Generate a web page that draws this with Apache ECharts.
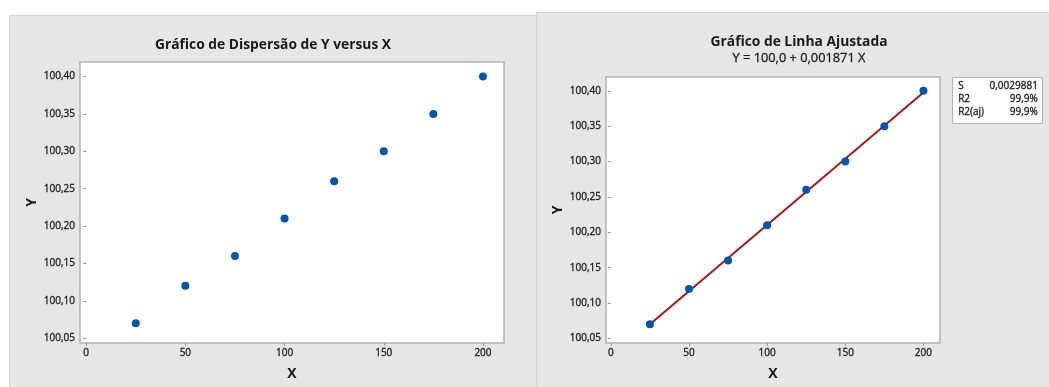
<!DOCTYPE html>
<html>
<head>
<meta charset="utf-8">
<script src="https://cdn.jsdelivr.net/npm/echarts@6/dist/echarts.min.js"></script>
<style>
html,body{margin:0;padding:0;background:#fff;}
#c{width:1049px;height:387px;}
</style>
</head>
<body>
<div id="c"></div>
<script>
// Data
const xValues = [25, 50, 75, 100, 125, 150, 175, 200];
const yValues = [100.07, 100.12, 100.16, 100.21, 100.26, 100.30, 100.35, 100.40];
// Fitted line endpoints (Y = 100,0 + 0,001871 X)
const fitX = [25, 200];
const fitY = [100.070, 100.3975];
// Tick labels
const xTicks = [0, 50, 100, 150, 200];
const yTicks = [100.05, 100.10, 100.15, 100.20, 100.25, 100.30, 100.35, 100.40];
// Summary table
const statNames = ['S', 'R2', 'R2(aj)'];
const statValues = ['0,0029881', '99,9%', '99,9%'];

const FONT = '"Open Sans", "Noto Sans", sans-serif';
const INK = '#1a1a1a';
const pts = xValues.map((x, i) => [x, yValues[i]]);
const fitPts = fitX.map((x, i) => [x, fitY[i]]);

function txt(size, weight, bw) {
  return {fontFamily: FONT, fontSize: size, fontWeight: weight, color: INK,
    textBorderColor: INK, textBorderWidth: bw};
}

function xAxisCfg(gi) {
  return {
    type: 'value', gridIndex: gi, min: -3.1, max: 210.6,
    name: 'X', nameLocation: 'middle', nameGap: 24,
    nameTextStyle: txt(14, 'bold', 0),
    axisLine: {show: false},
    splitLine: {show: false},
    axisTick: {show: true, length: 3, customValues: xTicks, lineStyle: {color: '#9a9a9a'}},
    axisLabel: Object.assign({customValues: xTicks, margin: 5, formatter: v => String(v)}, txt(10, 'normal', 0.3))
  };
}
function yAxisCfg(gi) {
  return {
    type: 'value', gridIndex: gi, min: 100.0435, max: 100.4195,
    name: 'Y', nameLocation: 'middle', nameGap: 41, nameRotate: 90,
    nameTextStyle: txt(14, 'bold', 0),
    axisLine: {show: false},
    splitLine: {show: false},
    axisTick: {show: true, length: 3, customValues: yTicks, lineStyle: {color: '#9a9a9a'}},
    axisLabel: Object.assign({customValues: yTicks, margin: 5,
      formatter: v => v.toFixed(2).replace('.', ',')}, txt(10, 'normal', 0.3))
  };
}

const statsGraphic = [];
statNames.forEach((n, i) => {
  statsGraphic.push({type: 'text', left: 958, top: 81 + i * 13, z: 101,
    style: {text: n, font: '10px ' + FONT, fill: INK, stroke: INK, lineWidth: 0.3}});
  statsGraphic.push({type: 'text', right: 1049 - 1038, top: 81 + i * 13, z: 101,
    style: {text: statValues[i], font: '10px ' + FONT, fill: INK, stroke: INK, lineWidth: 0.3, textAlign: 'right'}});
});

const chart = echarts.init(document.getElementById('c'), null, {renderer: 'canvas'});
chart.setOption({
  backgroundColor: '#ffffff',
  animation: false,
  title: [
    {text: 'Gráfico de Dispersão de Y versus X', left: 268, top: 33, textAlign: 'center',
      textStyle: txt(13.8, 'bold', 0)},
    {text: 'Gráfico de Linha Ajustada', left: 794, top: 30, textAlign: 'center',
      textStyle: txt(13.8, 'bold', 0),
      subtext: 'Y = 100,0 + 0,001871 X', itemGap: 3,
      subtextStyle: txt(12.8, 'normal', 0.3)}
  ],
  graphic: [
    {type: 'rect', left: 9, top: 15, z: -100, silent: true,
      shape: {width: 527, height: 380}, style: {fill: '#e6e6e6', stroke: '#d3d3d3', lineWidth: 1}},
    {type: 'rect', left: 536, top: 12, z: -100, silent: true,
      shape: {width: 520, height: 380}, style: {fill: '#e6e6e6', stroke: '#d3d3d3', lineWidth: 1}},
    {type: 'rect', left: 952, top: 77, z: 100, silent: true,
      shape: {width: 90, height: 46}, style: {fill: '#ffffff', stroke: '#b4b4b4', lineWidth: 1}}
  ].concat(statsGraphic),
  grid: [
    {left: 80, top: 62, width: 424, height: 281, show: true, backgroundColor: '#ffffff',
      borderColor: '#b3b3b3', borderWidth: 1.5},
    {left: 606, top: 77, width: 334, height: 266, show: true, backgroundColor: '#ffffff',
      borderColor: '#b3b3b3', borderWidth: 1.5}
  ],
  xAxis: [xAxisCfg(0), xAxisCfg(1)],
  yAxis: [yAxisCfg(0), yAxisCfg(1)],
  series: [
    {type: 'scatter', xAxisIndex: 0, yAxisIndex: 0, data: pts, symbolSize: 8,
      itemStyle: {color: '#0055a5', opacity: 1}},
    {type: 'line', xAxisIndex: 1, yAxisIndex: 1, data: fitPts, showSymbol: false,
      lineStyle: {color: '#9b1c1c', width: 2}, z: 2},
    {type: 'scatter', xAxisIndex: 1, yAxisIndex: 1, data: pts, symbolSize: 8,
      itemStyle: {color: '#0055a5', opacity: 1}, z: 3}
  ]
});
</script>
</body>
</html>
